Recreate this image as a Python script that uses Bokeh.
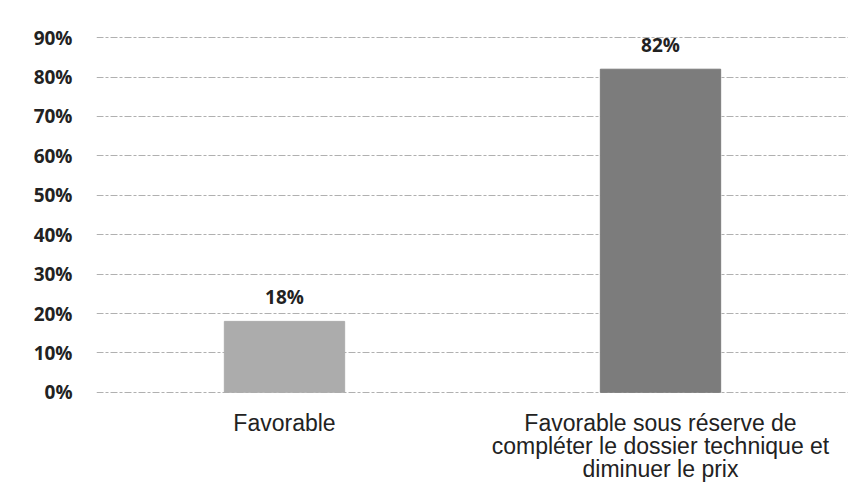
from bokeh.plotting import figure
from bokeh.models import ColumnDataSource, LabelSet, NumeralTickFormatter, FixedTicker, Range1d
from bokeh.core.properties import value
from bokeh.embed import file_html
from bokeh.resources import INLINE

categories = ["Favorable", "Favorable sous réserve de\ncompléter le dossier technique et\ndiminuer le prix"]
values = [0.18, 0.82]
value_labels = ["18%", "82%"]
colors = ["#acacac", "#7c7c7c"]
y_ticks = [0, 0.1, 0.2, 0.3, 0.4, 0.5, 0.6, 0.7, 0.8, 0.9]

src = ColumnDataSource(dict(cat=categories, val=values, lab=value_labels, col=colors))

p = figure(width=848, height=502, x_range=categories, y_range=Range1d(-0.003, 0.903),
           output_backend="svg", toolbar_location=None,
           min_border_left=96, min_border_right=0, min_border_top=36, min_border_bottom=109)
p.vbar(x="cat", top="val", width=0.32, color="col", source=src)

p.add_layout(LabelSet(x="cat", y="val", text="lab", source=src, text_align="center",
                      text_baseline="alphabetic", y_offset=17, text_font=value("Open Sans"),
                      text_font_style="bold", text_font_size="19px", text_color="#222222"))

p.yaxis.ticker = FixedTicker(ticks=y_ticks)
p.yaxis.formatter = NumeralTickFormatter(format="0%")
p.yaxis.major_label_text_font = "Open Sans"
p.yaxis.major_label_text_font_style = "bold"
p.yaxis.major_label_text_font_size = "19px"
p.yaxis.major_label_text_color = "#222222"
p.yaxis.major_label_standoff = 18
p.xaxis.major_label_text_font = "Liberation Sans"
p.xaxis.major_label_text_font_size = "23px"
p.xaxis.major_label_text_line_height = 0.9
p.xaxis.major_label_text_color = "#222222"
p.xaxis.major_label_standoff = 10
for ax in (p.xaxis, p.yaxis):
    ax.axis_line_color = None
    ax.major_tick_line_color = None
    ax.minor_tick_line_color = None

p.xgrid.grid_line_color = None
p.ygrid.grid_line_color = "#b0b0b0"
p.ygrid.grid_line_dash = "7 2 3 2"
p.ygrid.grid_line_width = 1
p.outline_line_color = None
p.background_fill_color = "#ffffff"

open("out.html", "w").write(file_html(p, INLINE))
